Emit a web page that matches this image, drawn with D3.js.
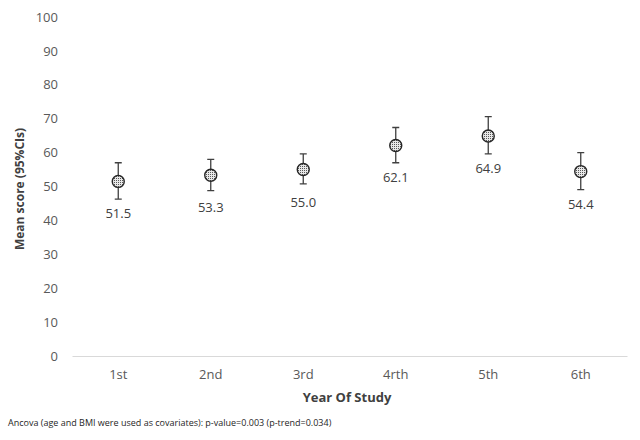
<!DOCTYPE html>
<html>
<head>
<meta charset="utf-8">
<script src="https://cdn.jsdelivr.net/npm/d3@7"></script>
<style>
  body { margin: 0; background: #fff; }
  text { font-family: "Open Sans", "Liberation Sans", sans-serif; }
</style>
</head>
<body>
<svg id="chart" width="640" height="440"></svg>
<script>
// chart data
const years = ["1st", "2nd", "3rd", "4rth", "5th", "6th"];
const means = [51.5, 53.3, 55.0, 62.1, 64.9, 54.4];
const ciLow = [46.3, 48.8, 50.8, 57.0, 59.6, 49.1];
const ciHigh = [57.0, 58.0, 59.6, 67.4, 70.6, 60.0];
const yTicks = [0, 10, 20, 30, 40, 50, 60, 70, 80, 90, 100];
const footnote = "Ancova (age and BMI were used as covariates): p-value=0.003 (p-trend=0.034)";

const W = 640, H = 440;
const margin = { top: 17, right: 13, bottom: 84, left: 72 };

const svg = d3.select("#chart");

// dotted marker fill
const defs = svg.append("defs");
const pat = defs.append("pattern")
    .attr("id", "dots")
    .attr("width", 2)
    .attr("height", 2)
    .attr("patternUnits", "userSpaceOnUse");
pat.append("rect").attr("width", 2).attr("height", 2).attr("fill", "#e8e8e8");
pat.append("rect").attr("width", 1).attr("height", 1).attr("fill", "#595959");

const x = d3.scaleBand()
    .domain(years)
    .range([margin.left, W - margin.right]);

const y = d3.scaleLinear()
    .domain([0, 100])
    .range([H - margin.bottom, margin.top]);

// y axis labels (no line)
const yAxis = svg.append("g")
    .attr("transform", `translate(${margin.left - 14},0)`)
    .call(d3.axisLeft(y).tickValues(yTicks).tickSize(0).tickPadding(0));
yAxis.select(".domain").remove();
yAxis.selectAll("text")
    .attr("fill", "#595959")
    .style("font-size", "13px");

// x axis baseline
const xAxis = svg.append("g")
    .attr("transform", `translate(0,${y(0)})`)
    .call(d3.axisBottom(x).tickSize(0).tickPadding(14));
xAxis.select(".domain").attr("stroke", "#d9d9d9").attr("stroke-width", 1.2);
xAxis.selectAll("text")
    .attr("fill", "#595959")
    .style("font-size", "13px");

const rows = years.map((yr, i) => ({ yr, m: means[i], lo: ciLow[i], hi: ciHigh[i] }));
const cx = d => x(d.yr) + x.bandwidth() / 2;

const pts = svg.append("g");

// error bars
pts.selectAll(".err")
    .data(rows)
    .enter()
    .append("path")
    .attr("class", "err")
    .attr("fill", "none")
    .attr("stroke", "#404040")
    .attr("stroke-width", 1.3)
    .attr("d", d => {
        const c = cx(d), t = y(d.hi), b = y(d.lo);
        return `M${c - 3.5},${t}H${c + 3.5}M${c},${t}V${b}M${c - 3.5},${b}H${c + 3.5}`;
    });

// markers
pts.selectAll(".mk")
    .data(rows)
    .enter()
    .append("circle")
    .attr("class", "mk")
    .attr("cx", cx)
    .attr("cy", d => y(d.m))
    .attr("r", 6)
    .attr("fill", "url(#dots)")
    .attr("stroke", "#262626")
    .attr("stroke-width", 1.4);

// value labels
pts.selectAll(".lbl")
    .data(rows)
    .enter()
    .append("text")
    .attr("class", "lbl")
    .attr("x", cx)
    .attr("y", d => y(d.m) + 37)
    .attr("text-anchor", "middle")
    .attr("fill", "#404040")
    .style("font-size", "13px")
    .text(d => d.m.toFixed(1));

// axis titles
svg.append("text")
    .attr("x", 347)
    .attr("y", 402)
    .attr("text-anchor", "middle")
    .attr("fill", "#404040")
    .style("font-size", "13px")
    .style("font-weight", "bold")
    .text("Year Of Study");

svg.append("text")
    .attr("transform", "translate(24,189) rotate(-90)")
    .attr("text-anchor", "middle")
    .attr("fill", "#404040")
    .style("font-size", "12px")
    .style("font-weight", "bold")
    .text("Mean score (95%CIs)");

svg.append("text")
    .attr("x", 8)
    .attr("y", 426)
    .attr("fill", "#262626")
    .style("font-size", "9px")
    .text(footnote);
</script>
</body>
</html>
